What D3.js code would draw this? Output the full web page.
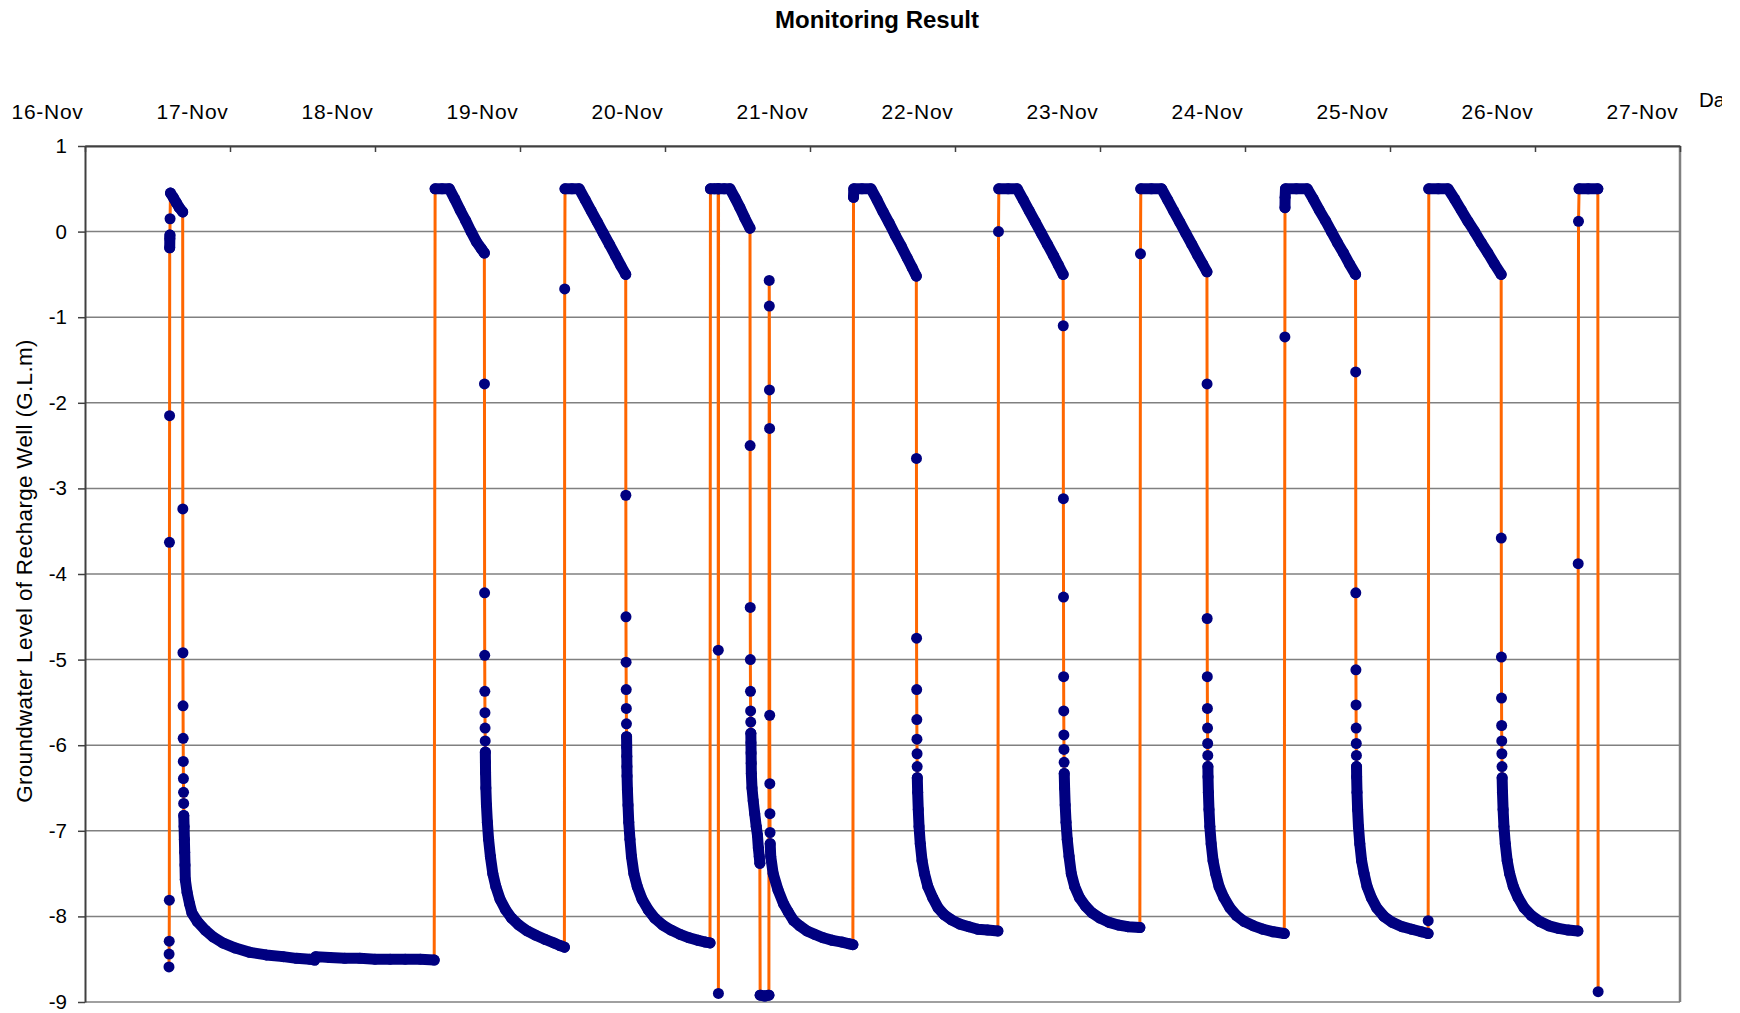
<!DOCTYPE html>
<html><head><meta charset="utf-8">
<script src="https://cdn.jsdelivr.net/npm/d3@7"></script>
<style>
html,body{margin:0;padding:0;background:#fff;}
svg{display:block;font-family:"Liberation Sans",Arial,Helvetica,sans-serif;}
</style></head><body>
<svg id="chart" width="1740" height="1013"></svg>
<script>
// ---------- labels ----------
const chartTitle = "Monitoring Result";
const yAxisTitle = "Groundwater Level of Recharge Well (G.L.m)";
const xAxisTitle = "Date";
const dateLabels = ["16-Nov","17-Nov","18-Nov","19-Nov","20-Nov","21-Nov","22-Nov","23-Nov","24-Nov","25-Nov","26-Nov","27-Nov"];
const yTicks = [1,0,-1,-2,-3,-4,-5,-6,-7,-8,-9];

// ---------- data: [hours after 16-Nov 00:00, level (G.L.m)] ----------
const cycle17Nov = [[13.90,-8.59],[13.92,-8.44],[13.94,-8.29],[13.96,-7.81],[13.98,-3.63],[14.00,-2.15],[14.02,-0.19],[14.04,-0.08],[14.06,-0.04],[14.08,0.15],[14.15,0.45],[14.6,0.40],[15.1,0.34],[15.6,0.28],[16.17,0.23],
 [16.19,-3.24],[16.21,-4.92],[16.23,-5.54],[16.25,-5.92],[16.27,-6.19],[16.29,-6.39],[16.31,-6.55],[16.33,-6.68],[16.35,-6.82],[16.40,-6.95],[16.45,-7.10],[16.50,-7.25],[16.55,-7.40],[16.60,-7.57],[16.9,-7.72],[17.3,-7.85],[17.7,-7.96],[18.6,-8.06],[19.9,-8.16],[21.2,-8.24],[22.8,-8.31],[24.9,-8.37],[27.3,-8.42],[30.0,-8.45],[32.8,-8.47],[35.0,-8.49],[37.2,-8.50],[38.0,-8.51],[38.2,-8.47],[40.5,-8.48],[43.0,-8.49],[45.5,-8.49],[48.0,-8.50],[50.5,-8.50],[53.0,-8.50],[55.5,-8.50],[57.8,-8.51]];
const cycle19Nov = [[57.95,0.5],[59.1,0.5],[60.3,0.5],[61.2,0.38],[62.1,0.25],[63.0,0.13],[63.9,0.0],[64.8,-0.12],[65.6,-0.20],[66.1,-0.25],
 [66.12,-1.78],[66.14,-4.22],[66.16,-4.95],[66.18,-5.37],[66.20,-5.62],[66.22,-5.80],[66.24,-5.95],[66.26,-6.08],[66.28,-6.20],[66.30,-6.32],
 [66.35,-6.50],[66.45,-6.70],[66.6,-6.90],[66.8,-7.10],[67.1,-7.30],[67.5,-7.50],[68.0,-7.65],[68.7,-7.80],[69.6,-7.92],[70.6,-8.02],[71.8,-8.10],[73.2,-8.17],[74.6,-8.22],[76.2,-8.27],[77.6,-8.31],[78.6,-8.34],[79.35,-8.36]];
const cycle20Nov = [[79.40,-0.67],[79.45,0.5],[80.6,0.5],[81.8,0.5],[82.8,0.37],[83.8,0.24],[84.8,0.11],[85.8,-0.02],[86.8,-0.15],[87.8,-0.28],[88.7,-0.40],[89.5,-0.50],
 [89.52,-3.08],[89.54,-4.50],[89.56,-5.03],[89.58,-5.35],[89.60,-5.57],[89.62,-5.75],[89.64,-5.90],[89.66,-6.02],[89.68,-6.13],[89.70,-6.25],[89.72,-6.36],
 [89.78,-6.52],[89.88,-6.70],[90.0,-6.90],[90.2,-7.10],[90.45,-7.30],[90.85,-7.50],[91.4,-7.65],[92.2,-7.80],[93.2,-7.92],[94.3,-8.02],[95.6,-8.10],[97.0,-8.16],[98.5,-8.21],[100.0,-8.25],[101.5,-8.28],[102.7,-8.30],[103.45,-8.31]];
const cycle21Nov = [[103.52,0.5],[104.2,0.5],[104.8,0.5],[104.82,-4.89],[104.84,-8.90],[104.86,0.5],[105.8,0.5],[106.76,0.5],[107.6,0.39],[108.4,0.28],[109.2,0.16],[110.07,0.04],
 [110.09,-2.50],[110.11,-4.39],[110.13,-5.00],[110.15,-5.37],[110.17,-5.60],[110.19,-5.73],[110.21,-5.86],[110.23,-5.97],[110.25,-6.09],[110.27,-6.21],[110.29,-6.33],
 [110.4,-6.50],[110.6,-6.65],[110.85,-6.80],[111.1,-6.95],[111.3,-7.05],[111.45,-7.20],[111.6,-7.30],[111.7,-7.38],
 [111.75,-8.92],[112.5,-8.93],[113.2,-8.92],
 [113.25,-0.57],[113.27,-0.87],[113.29,-1.85],[113.31,-2.30],[113.33,-5.65],[113.35,-6.45],[113.37,-6.80],[113.39,-7.02],[113.41,-7.15],
 [113.5,-7.30],[113.9,-7.50],[114.7,-7.69],[115.6,-7.85],[116.4,-7.95],[117.3,-8.05],[118.3,-8.11],[119.5,-8.17],[120.8,-8.21],[122.2,-8.25],[123.7,-8.28],[125.3,-8.30],[126.5,-8.32],[127.1,-8.33]];
const cycle22Nov = [[127.2,0.4],[127.25,0.5],[128.6,0.5],[130.1,0.5],[131.1,0.37],[132.1,0.23],[133.1,0.10],[134.1,-0.04],[135.1,-0.17],[136.1,-0.31],[136.9,-0.42],[137.6,-0.52],
 [137.62,-2.65],[137.64,-4.75],[137.66,-5.35],[137.68,-5.70],[137.70,-5.93],[137.72,-6.10],[137.74,-6.25],[137.76,-6.38],
 [137.82,-6.55],[137.92,-6.75],[138.05,-6.95],[138.25,-7.15],[138.55,-7.35],[138.95,-7.50],[139.5,-7.65],[140.3,-7.78],[141.2,-7.90],[142.2,-7.98],[143.4,-8.04],[144.8,-8.09],[146.3,-8.12],[147.8,-8.15],[149.4,-8.16],[151.1,-8.17]];
const cycle23Nov = [[151.2,0.0],[151.25,0.5],[152.8,0.5],[154.3,0.5],[155.3,0.37],[156.3,0.24],[157.3,0.11],[158.3,-0.02],[159.3,-0.15],[160.3,-0.28],[161.1,-0.39],[161.9,-0.50],
 [161.92,-1.10],[161.94,-3.12],[161.96,-4.27],[161.98,-5.20],[162.00,-5.60],[162.02,-5.88],[162.04,-6.05],[162.06,-6.20],[162.08,-6.33],
 [162.14,-6.50],[162.24,-6.70],[162.38,-6.90],[162.58,-7.10],[162.88,-7.30],[163.25,-7.50],[163.8,-7.65],[164.6,-7.78],[165.6,-7.88],[166.7,-7.96],[168.0,-8.02],[169.5,-8.07],[171.0,-8.10],[172.6,-8.12],[174.6,-8.13]];
const cycle24Nov = [[174.7,-0.26],[174.75,0.5],[176.5,0.5],[178.2,0.5],[179.2,0.37],[180.2,0.24],[181.2,0.11],[182.2,-0.02],[183.2,-0.15],[184.2,-0.28],[185.0,-0.38],[185.7,-0.47],
 [185.72,-1.78],[185.74,-4.52],[185.76,-5.20],[185.78,-5.57],[185.80,-5.80],[185.82,-5.98],[185.84,-6.12],[185.86,-6.25],[185.88,-6.37],
 [185.94,-6.55],[186.04,-6.75],[186.18,-6.95],[186.4,-7.15],[186.72,-7.35],[187.15,-7.50],[187.7,-7.65],[188.5,-7.78],[189.5,-7.90],[190.6,-7.99],[191.9,-8.06],[193.4,-8.11],[195.0,-8.15],[196.7,-8.18],[198.5,-8.20]];
const cycle25Nov = [[198.6,-1.23],[198.62,0.28],[198.64,0.40],[198.7,0.5],[200.5,0.5],[202.3,0.5],[203.3,0.38],[204.3,0.25],[205.3,0.13],[206.3,0.0],[207.3,-0.13],[208.3,-0.25],[209.3,-0.38],[210.3,-0.50],
 [210.32,-1.64],[210.34,-4.22],[210.36,-5.12],[210.38,-5.53],[210.40,-5.80],[210.42,-5.98],[210.44,-6.12],[210.46,-6.25],[210.48,-6.37],
 [210.54,-6.55],[210.64,-6.75],[210.78,-6.95],[211.0,-7.15],[211.3,-7.35],[211.7,-7.50],[212.2,-7.65],[212.9,-7.78],[213.8,-7.90],[215.0,-8.00],[216.4,-8.07],[218.0,-8.12],[219.6,-8.15],[221.2,-8.18],[222.3,-8.20],[222.32,-8.05]];
const cycle26Nov = [[222.42,0.5],[224.0,0.5],[225.6,0.5],[226.7,0.38],[227.8,0.25],[228.9,0.12],[230.0,0.0],[231.1,-0.13],[232.2,-0.25],[233.3,-0.38],[234.4,-0.50],
 [234.42,-3.58],[234.44,-4.97],[234.46,-5.45],[234.48,-5.77],[234.50,-5.95],[234.52,-6.10],[234.54,-6.25],[234.56,-6.38],
 [234.62,-6.55],[234.72,-6.75],[234.86,-6.95],[235.08,-7.15],[235.4,-7.35],[235.8,-7.50],[236.4,-7.65],[237.2,-7.78],[238.2,-7.90],[239.4,-7.99],[240.8,-8.06],[242.3,-8.11],[243.9,-8.14],[245.5,-8.16],[247.1,-8.17]];
const cycle27Nov = [[247.15,-3.88],[247.2,0.12],[247.3,0.5],[248.8,0.5],[250.4,0.5],[250.45,-8.88]];

// ---------- build ----------
const startUTC = Date.UTC(2007, 10, 16);
const toDate = h => new Date(startUTC + h * 3600e3);
const series = [].concat(cycle17Nov, cycle19Nov, cycle20Nov, cycle21Nov, cycle22Nov,
  cycle23Nov, cycle24Nov, cycle25Nov, cycle26Nov, cycle27Nov)
  .map(([h, v]) => ({ h, t: toDate(h), v }));

const L = 85, R = 1680, T = 146, B = 1002;
const x = d3.scaleUtc().domain([new Date(startUTC), toDate(24 * (dateLabels.length - 1))]).range([L, R]);
const y = d3.scaleLinear().domain([d3.min(yTicks), d3.max(yTicks)]).range([B, T]);

const svg = d3.select("#chart");

// title
svg.append("text").attr("x", 877).attr("y", 28).attr("text-anchor", "middle")
  .attr("font-size", 24).attr("font-weight", "bold").attr("fill", "#000").text(chartTitle);

// gridlines
svg.append("g").selectAll("line").data(yTicks).join("line")
  .attr("x1", L).attr("x2", R).attr("y1", d => y(d)).attr("y2", d => y(d))
  .attr("stroke", "#808080").attr("stroke-width", 1.5);

// right border
svg.append("line").attr("x1", R).attr("x2", R).attr("y1", T).attr("y2", B)
  .attr("stroke", "#808080").attr("stroke-width", 2.5);

// top (date) axis
const dayTicks = dateLabels.map((_, i) => toDate(24 * i));
const xAxis = svg.append("g").attr("transform", `translate(0,${T})`)
  .call(d3.axisTop(x).tickValues(dayTicks).tickSizeInner(-6).tickSizeOuter(0)
    .tickFormat((d, i) => dateLabels[i]));
xAxis.select(".domain").attr("stroke", "#404040").attr("stroke-width", 2);
xAxis.selectAll(".tick line").attr("stroke", "#404040").attr("stroke-width", 1.5);
xAxis.selectAll(".tick text").attr("text-anchor", "end").attr("x", -2).attr("y", -27).attr("dy", 0)
  .attr("font-size", 21).attr("letter-spacing", "0.7px").attr("fill", "#000")
  .attr("font-family", "Liberation Sans, Arial, sans-serif");

// left axis
const yAxis = svg.append("g").attr("transform", `translate(${L},0)`)
  .call(d3.axisLeft(y).tickValues(yTicks).tickSize(7).tickSizeOuter(0).tickPadding(11).tickFormat(d3.format("d")));
yAxis.select(".domain").attr("stroke", "#404040").attr("stroke-width", 2);
yAxis.selectAll(".tick line").attr("stroke", "#404040").attr("stroke-width", 1.5);
yAxis.selectAll(".tick text").attr("font-size", 20.5).attr("fill", "#000")
  .attr("font-family", "Liberation Sans, Arial, sans-serif").text(d => d3.format("d")(d).replace("−", "-"));

// axis titles
svg.append("text").attr("transform", "translate(32,571) rotate(-90)").attr("text-anchor", "middle")
  .attr("font-size", 22.5).attr("letter-spacing", "0.3px").attr("fill", "#000").text(yAxisTitle);
svg.append("clipPath").attr("id", "dateClip").append("rect").attr("x", 0).attr("y", 0).attr("width", 1722).attr("height", 1013);
svg.append("text").attr("x", 1699).attr("y", 107).attr("font-size", 20.5).attr("fill", "#000")
  .attr("clip-path", "url(#dateClip)").text(xAxisTitle);

// series line
const line = d3.line().x(d => x(d.t)).y(d => y(d.v));
svg.append("path").datum(series).attr("d", line).attr("fill", "none")
  .attr("stroke", "#FF6600").attr("stroke-width", 3).attr("stroke-linejoin", "round");

// markers of the densely logged stretches overlap into a continuous band
const R_MARK = 5.5;
const runs = [];
let cur = [series[0]];
for (let i = 1; i < series.length; i++) {
  const a = series[i - 1], b = series[i];
  const dist = Math.hypot(x(b.t) - x(a.t), y(b.v) - y(a.v));
  const dense = (b.h - a.h) >= 0.04 && dist < 20;
  if (dense || dist < 2 * R_MARK) cur.push(b); else { runs.push(cur); cur = [b]; }
}
runs.push(cur);
svg.append("g").selectAll("path").data(runs.filter(r => r.length > 1)).join("path")
  .attr("d", line).attr("fill", "none").attr("stroke", "#000080")
  .attr("stroke-width", 2 * R_MARK).attr("stroke-linejoin", "round").attr("stroke-linecap", "round");

// markers
svg.append("g").selectAll("circle").data(series).join("circle")
  .attr("cx", d => x(d.t)).attr("cy", d => y(d.v)).attr("r", R_MARK).attr("fill", "#000080");
</script>
</body></html>
